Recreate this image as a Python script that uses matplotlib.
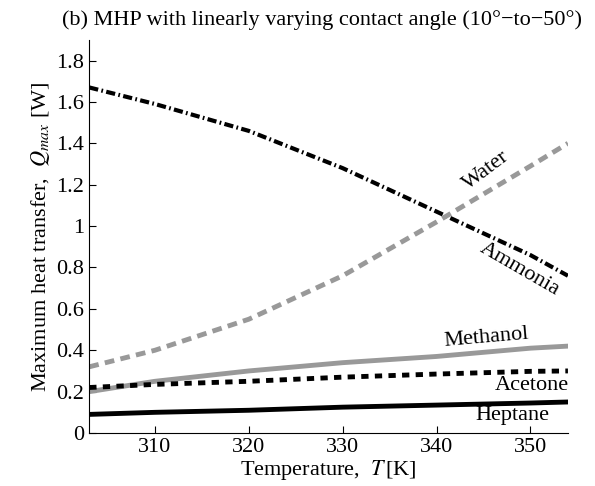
import numpy as np
import matplotlib
matplotlib.use("Agg")
import matplotlib.pyplot as plt

plt.rcParams["font.family"] = "Liberation Serif"
plt.rcParams["mathtext.fontset"] = "stix"

T = [303, 310, 320, 330, 340, 350, 354]
ammonia  = [1.67, 1.59, 1.46, 1.28, 1.07, 0.86, 0.76]
water    = [0.32, 0.40, 0.55, 0.76, 1.02, 1.29, 1.40]
methanol = [0.20, 0.25, 0.30, 0.34, 0.37, 0.41, 0.42]
acetone  = [0.22, 0.235, 0.25, 0.27, 0.285, 0.298, 0.30]
heptane  = [0.09, 0.10, 0.11, 0.125, 0.135, 0.145, 0.15]

fig = plt.figure(figsize=(5.95, 4.86), dpi=100)
ax = fig.add_axes([0.150, 0.109, 0.8045, 0.809])

ax.plot(T, ammonia, color="black", lw=3, ls=(0, (2.2, 0.8, 0.4, 0.8)))
ax.plot(T, water, color="#999999", lw=3.5, ls=(0, (2, 1.3)))
ax.plot(T, methanol, color="#999999", lw=3.5)
ax.plot(T, acetone, color="black", lw=3.5, ls=(0, (1.5, 1.3)))
ax.plot(T, heptane, color="black", lw=3.5)

fs = 16
ax.text(345.3, 1.27, "Water", rotation=37, fontsize=fs, ha="center", va="center")
ax.text(348.9, 0.79, "Ammonia", rotation=-30, fontsize=fs, ha="center", va="center")
ax.text(345.3, 0.462, "Methanol", rotation=5, fontsize=fs, ha="center", va="center")
ax.text(350.2, 0.231, "Acetone", fontsize=fs, ha="center", va="center")
ax.text(348.1, 0.087, "Heptane", fontsize=fs, ha="center", va="center")

ax.set_xlim(303, 354)
ax.set_ylim(0, 1.9)
ax.set_xticks([310, 320, 330, 340, 350])
ax.set_yticks([0, 0.2, 0.4, 0.6, 0.8, 1, 1.2, 1.4, 1.6, 1.8])
ax.set_yticklabels(["0", "0.2", "0.4", "0.6", "0.8", "1", "1.2", "1.4", "1.6", "1.8"])
ax.tick_params(direction="in", labelsize=fs, length=5)
for s in ["top", "right"]:
    ax.spines[s].set_visible(False)

ax.set_xlabel("Temperature,  $T\\,$[K]", fontsize=fs, labelpad=1)
ax.set_ylabel("Maximum heat transfer,  $Q_{max}$ [W]", fontsize=fs, labelpad=3)
fig.text(0.542, 0.959, "(b) MHP with linearly varying contact angle (10°\u2212to\u221250°)",
         fontsize=fs, ha="center", va="center")

fig.savefig("out.png", dpi=100)
